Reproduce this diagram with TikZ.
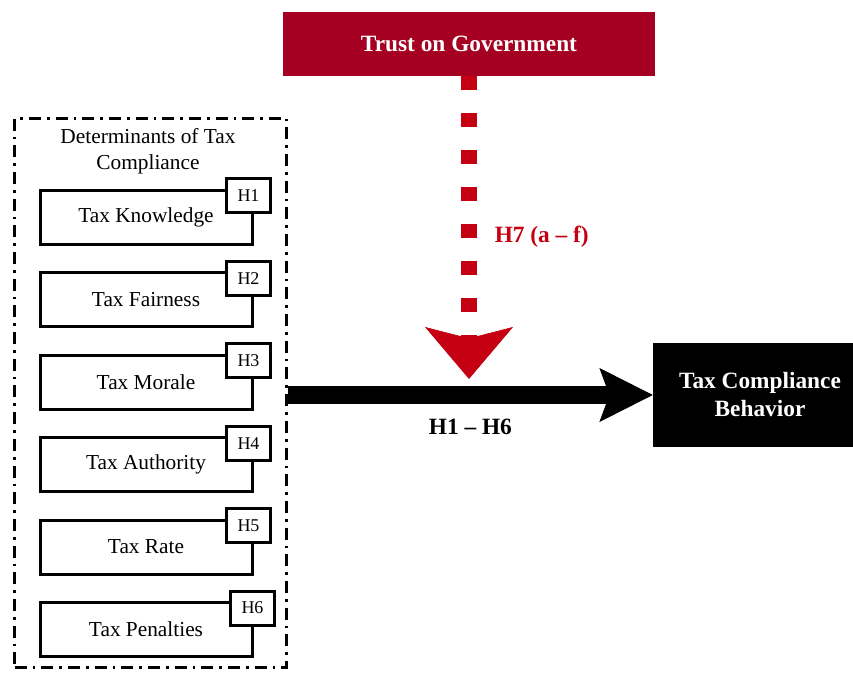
\documentclass[tikz,border=0pt]{standalone}
\usepackage{fontspec}
\setmainfont{Liberation Serif}
\usetikzlibrary{arrows.meta,positioning}
\definecolor{trustred}{RGB}{165,0,33}
\definecolor{modred}{RGB}{196,0,18}

\begin{document}
\begin{tikzpicture}[x=0.75pt, y=-0.75pt,
    factor/.style={draw, line width=2.25pt, fill=white, minimum width=159pt, minimum height=40.5pt, outer sep=0pt, font=\fontsize{16}{19}\selectfont},
    hyp/.style={draw, line width=2.25pt, fill=white, minimum width=33pt, minimum height=25.5pt, inner sep=0pt, anchor=north west, font=\fontsize{13.5}{16}\selectfont},
    group/.style={draw, line width=2.25pt, dash pattern=on 9pt off 4.5pt on 2pt off 4.5pt, minimum width=204pt, minimum height=411.75pt, anchor=north west},
    moderator/.style={fill=trustred, text=white, minimum width=279pt, minimum height=48pt, font=\bfseries\fontsize{17.5}{21}\selectfont},
    outcome/.style={fill=black, text=white, align=center, minimum width=160.5pt, minimum height=78pt, font=\bfseries\fontsize{17.5}{21}\selectfont},
    mod/.style={modred, line width=12pt, dash pattern=on 10.5pt off 17.25pt, -{Stealth[length=39pt, width=66pt, inset=8.5pt, line width=0.5pt]}},
    effect/.style={line width=13.5pt, -{Stealth[length=40pt, width=40.5pt, inset=7.5pt, line width=0.5pt]}},
    lab/.style={font=\bfseries\fontsize{17.5}{21}\selectfont}
]
\useasboundingbox (0,0) rectangle (853,673);

% Moderator and outcome
\node[moderator] (trust) at (469,44) {Trust on Government};
\node[outcome] (tcb) at (760,395) {Tax Compliance\\Behavior};

% Determinants group
\node[group] (det) at (13,117) {};
\node[align=center, font=\fontsize{16}{19.5}\selectfont] (dettitle) at (148,151) {Determinants of Tax\\Compliance};

% Factors (stacked)
\node[factor] (know) at (146,217.5) {Tax Knowledge};
\node[factor, below=21.3pt of know] (fair) {Tax Fairness};
\node[factor, below=21.3pt of fair] (morale) {Tax Morale};
\node[factor, below=21.3pt of morale] (auth) {Tax Authority};
\node[factor, below=21.3pt of auth] (rate) {Tax Rate};
\node[factor, below=21.3pt of rate] (pen) {Tax Penalties};

% Hypothesis tags
\node[hyp] (h1) at ([xshift=-20.25pt, yshift=9.75pt]know.north east) {H1};
\node[hyp] (h2) at ([xshift=-20.25pt, yshift=9.75pt]fair.north east) {H2};
\node[hyp] (h3) at ([xshift=-20.25pt, yshift=9.75pt]morale.north east) {H3};
\node[hyp] (h4) at ([xshift=-20.25pt, yshift=9.75pt]auth.north east) {H4};
\node[hyp] (h5) at ([xshift=-20.25pt, yshift=9.75pt]rate.north east) {H5};
\node[hyp] (h6) at ([xshift=-17.25pt, yshift=9.75pt]pen.north east) {H6};

% Moderating effect
\coordinate (meet) at (trust.south |- 0,379);
\draw[mod] (trust.south) -- node[lab, right=10pt, pos=0.53, text=modred] (h7) {H7 (a -- f)} (meet);

% Main effect
\draw[effect] (det.east |- tcb.west) -- node[lab, below=8pt, midway] (h16) {H1 -- H6} (tcb.west);

\end{tikzpicture}
\end{document}
